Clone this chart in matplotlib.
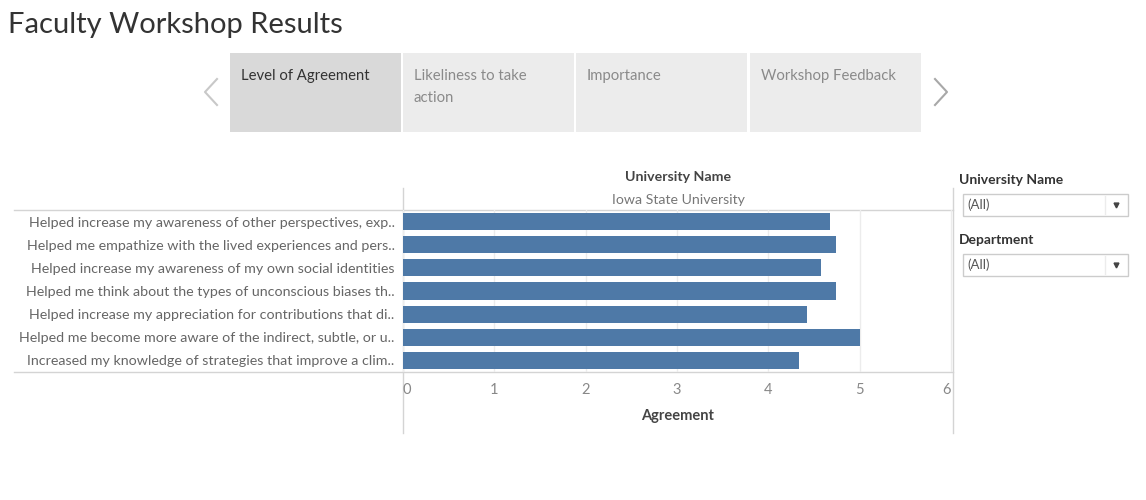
import matplotlib
matplotlib.use("Agg")
import matplotlib.pyplot as plt
from matplotlib.patches import Rectangle

plt.rcParams['font.family'] = ['Lato', 'DejaVu Sans']

W, H = 1146, 500

# data
questions = [
    "Helped increase my awareness of other perspectives, exp..",
    "Helped me empathize with the lived experiences and pers..",
    "Helped increase my awareness of my own social identities",
    "Helped me think about the types of unconscious biases th..",
    "Helped increase my appreciation for contributions that di..",
    "Helped me become more aware of the indirect, subtle, or u..",
    "Increased my knowledge of strategies that improve a clim..",
]
agreement = [4.67, 4.74, 4.58, 4.74, 4.42, 5.00, 4.33]
x_ticks = [0, 1, 2, 3, 4, 5, 6]
tabs = ["Level of Agreement", "Likeliness to take\naction", "Importance", "Workshop Feedback"]
university = "Iowa State University"
filters = ["University Name", "Department"]

BAR = "#4e79a7"
LINE = "#d4d4d4"


def box(l, t, r, b):
    return [l / W, 1 - b / H, (r - l) / W, (b - t) / H]


fig = plt.figure(figsize=(W / 100, H / 100), dpi=100)

# overlay in pixel coords for the dashboard decoration
ov = fig.add_axes([0, 0, 1, 1])
ov.set_xlim(0, W)
ov.set_ylim(H, 0)
ov.axis("off")

ov.text(8, 25, "Faculty Workshop Results", fontsize=21, color="#333333", va="center", ha="left")

# tab strip
tab_x = [230, 403, 576, 750]
for i, (x0, name) in enumerate(zip(tab_x, tabs)):
    ov.add_patch(Rectangle((x0, 53), 171, 79, color="#d9d9d9" if i == 0 else "#ececec", lw=0))
    ov.text(x0 + 11, 69, name, fontsize=10.7, color="#333333" if i == 0 else "#8a8a8a",
            va="top", ha="left", linespacing=1.75)
ov.plot([217, 205, 217], [79, 92, 105], color="#c8c8c8", lw=1.5)
ov.plot([935, 947, 935], [79, 92, 105], color="#a8a8a8", lw=1.5)

# header
ov.text(678, 177, "University Name", fontsize=10.2, fontweight="bold", color="#444444", ha="center", va="center")
ov.text(678, 200, university, fontsize=10.2, color="#777777", ha="center", va="center")

# frame lines
ov.plot([14, 953], [210, 210], color=LINE, lw=1)
ov.plot([14, 953], [372, 372], color=LINE, lw=1)
ov.plot([403, 403], [188, 433], color=LINE, lw=1)
ov.plot([953, 953], [188, 433], color=LINE, lw=1)

ov.text(678, 416, "Agreement", fontsize=10.5, fontweight="bold", color="#444444", ha="center", va="center")

# filters
for j, name in enumerate(filters):
    y0 = 180 + j * 60
    ov.text(959, y0, name, fontsize=10, fontweight="bold", color="#333333", ha="left", va="center")
    ov.add_patch(Rectangle((963, y0 + 14), 165, 22, facecolor="white", edgecolor="#cccccc", lw=1))
    ov.plot([1105, 1105], [y0 + 16, y0 + 34], color="#ececec", lw=1)
    ov.text(967, y0 + 25, "(All)", fontsize=9.5, color="#555555", ha="left", va="center")
    ov.plot([1116], [y0 + 25], marker="v", color="#444444", markersize=3.5)

# bar chart
ax = fig.add_axes(box(403, 210, 953, 372))
ypos = list(range(len(questions)))
ax.barh(ypos, agreement, height=0.74, color=BAR, zorder=3)
ax.set_ylim(len(questions) - 0.5, -0.5)
ax.set_xlim(0, 6.02)
ax.set_yticks(ypos)
ax.set_yticklabels(questions, fontsize=10.3, color="#666666")
ax.set_xticks(x_ticks)
ax.set_xticklabels([str(t) for t in x_ticks], fontsize=10.5, color="#888888")
xl = ax.get_xticklabels()
xl[0].set_ha("left")
xl[-1].set_ha("right")
ax.tick_params(length=0, axis="y", pad=6)
ax.tick_params(length=0, axis="x", pad=8)
ax.grid(axis="x", color="#ececec", lw=1, zorder=0)
for s in ax.spines.values():
    s.set_visible(False)
ax.patch.set_alpha(0)

fig.savefig("out.png", dpi=100)
